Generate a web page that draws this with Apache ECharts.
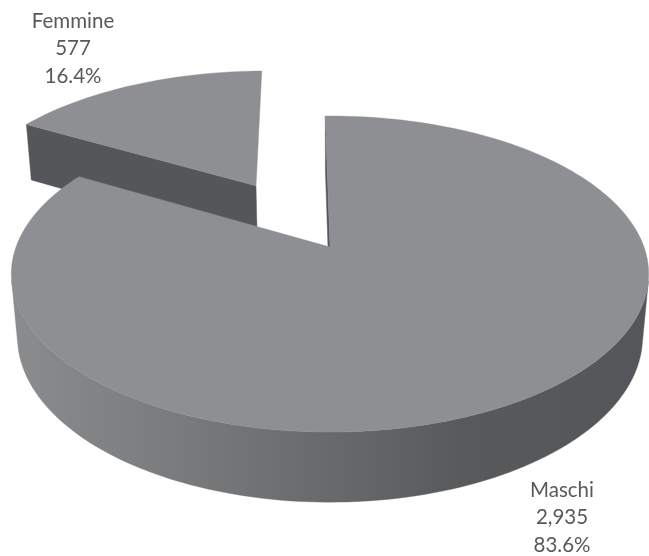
<!DOCTYPE html>
<html>
<head>
<meta charset="utf-8">
<style>html,body{margin:0;padding:0;background:#fff}#c{width:649px;height:556px}</style>
<script src="https://cdn.jsdelivr.net/npm/echarts@6/dist/echarts.min.js"></script>
</head>
<body>
<div id="c"></div>
<script>
const categories = ['Femmine', 'Maschi'];
const values = [577, 2935];
const explode = [0.497, 0];
const labelAnchors = [[73, 21], [562, 490]];

const total = values.reduce((a, b) => a + b, 0);
const startAngle = -1;
const TOP = '#8e8f93', DARK = '#55565a';

// perspective projection of the unit disc (y = back, h = 1 on the underside)
function project(X, Y, h) {
  const w = 1 + 0.171 * Y + 0.019 * h;
  return [330 + 314 * X / w, 247 + (-153.4 * Y + 63 * h) / w];
}
function sliceAngles(index) {
  // Maschi starts at the top, Femmine follows it clockwise
  const maschi = values[1] / total * 360;
  return index === 1
    ? [startAngle, startAngle + maschi]
    : [startAngle + maschi, startAngle + 360];
}
function rimPoints(a0, a1, ox, oy, h) {
  const pts = [];
  const n = Math.max(8, Math.ceil((a1 - a0) / 1.5));
  for (let i = 0; i <= n; i++) {
    const a = (a0 + (a1 - a0) * i / n) * Math.PI / 180;
    pts.push(project(ox + Math.sin(a), oy + Math.cos(a), h));
  }
  return pts;
}
// the outer wall is only visible where its quads face the viewer
function frontWall(top, bot) {
  const area = (p, q, r, s) => {
    const pts = [p, q, r, s];
    let sum = 0;
    for (let i = 0; i < 4; i++) {
      const a = pts[i], b = pts[(i + 1) % 4];
      sum += a[0] * b[1] - b[0] * a[1];
    }
    return sum;
  };
  let first = -1, last = -1;
  for (let i = 0; i < top.length - 1; i++) {
    // the front of the disc runs right to left, clockwise on screen
    if (area(top[i], top[i + 1], bot[i + 1], bot[i]) < 0) {
      if (first < 0) first = i;
      last = i + 1;
    }
  }
  return top.slice(first, last + 1).concat(bot.slice(first, last + 1).reverse());
}
const poly = (points, fill) => ({
  type: 'polygon', shape: { points },
  style: { fill, stroke: fill, lineWidth: 0.4 }, silent: true
});

function renderItem(params, api) {
  const i = params.dataIndex;
  const v = api.value(0);
  const [a0, a1] = sliceAngles(i);
  const mid = (a0 + a1) / 2 * Math.PI / 180;
  const ox = Math.sin(mid) * explode[i], oy = Math.cos(mid) * explode[i];
  const children = [];
  const top = rimPoints(a0, a1, ox, oy, 0);
  const bot = rimPoints(a0, a1, ox, oy, 1);
  const apexT = project(ox, oy, 0), apexB = project(ox, oy, 1);

  if (i === 1) {
    const sideFill = new echarts.graphic.LinearGradient(18, 0, 645, 0, [
      { offset: 0, color: '#8a8b8d' },
      { offset: 0.25, color: '#7a7b7d' },
      { offset: 0.5, color: '#68696b' },
      { offset: 0.72, color: '#58595b' },
      { offset: 1, color: '#555659' }
    ], true);
    children.push(poly([apexT, top[0], bot[0], apexB], DARK));
    children.push(poly(frontWall(top, bot), sideFill));
  } else {
    children.push(poly([apexT, top[0], bot[0], apexB], DARK));
  }
  children.push(poly([apexT].concat(top), TOP));

  const pct = (v / total * 100).toFixed(1) + '%';
  const lines = [categories[i], v.toLocaleString('en-US'), pct];
  const [lx, ly] = labelAnchors[i];
  lines.forEach((t, k) => children.push({
    type: 'text', silent: true,
    style: {
      x: lx, y: ly + k * 27.8, text: t, align: 'center', verticalAlign: 'middle',
      fill: '#58595b', font: '20.5px Lato, "Open Sans", sans-serif'
    }
  }));
  return { type: 'group', children };
}

const chart = echarts.init(document.getElementById('c'), null, { renderer: 'canvas' });
chart.setOption({
  animation: false,
  backgroundColor: '#ffffff',
  series: [{
    type: 'custom',
    coordinateSystem: 'none',
    renderItem,
    data: categories.map((name, i) => ({ name, value: [values[i]] }))
  }]
});
</script>
</body>
</html>
